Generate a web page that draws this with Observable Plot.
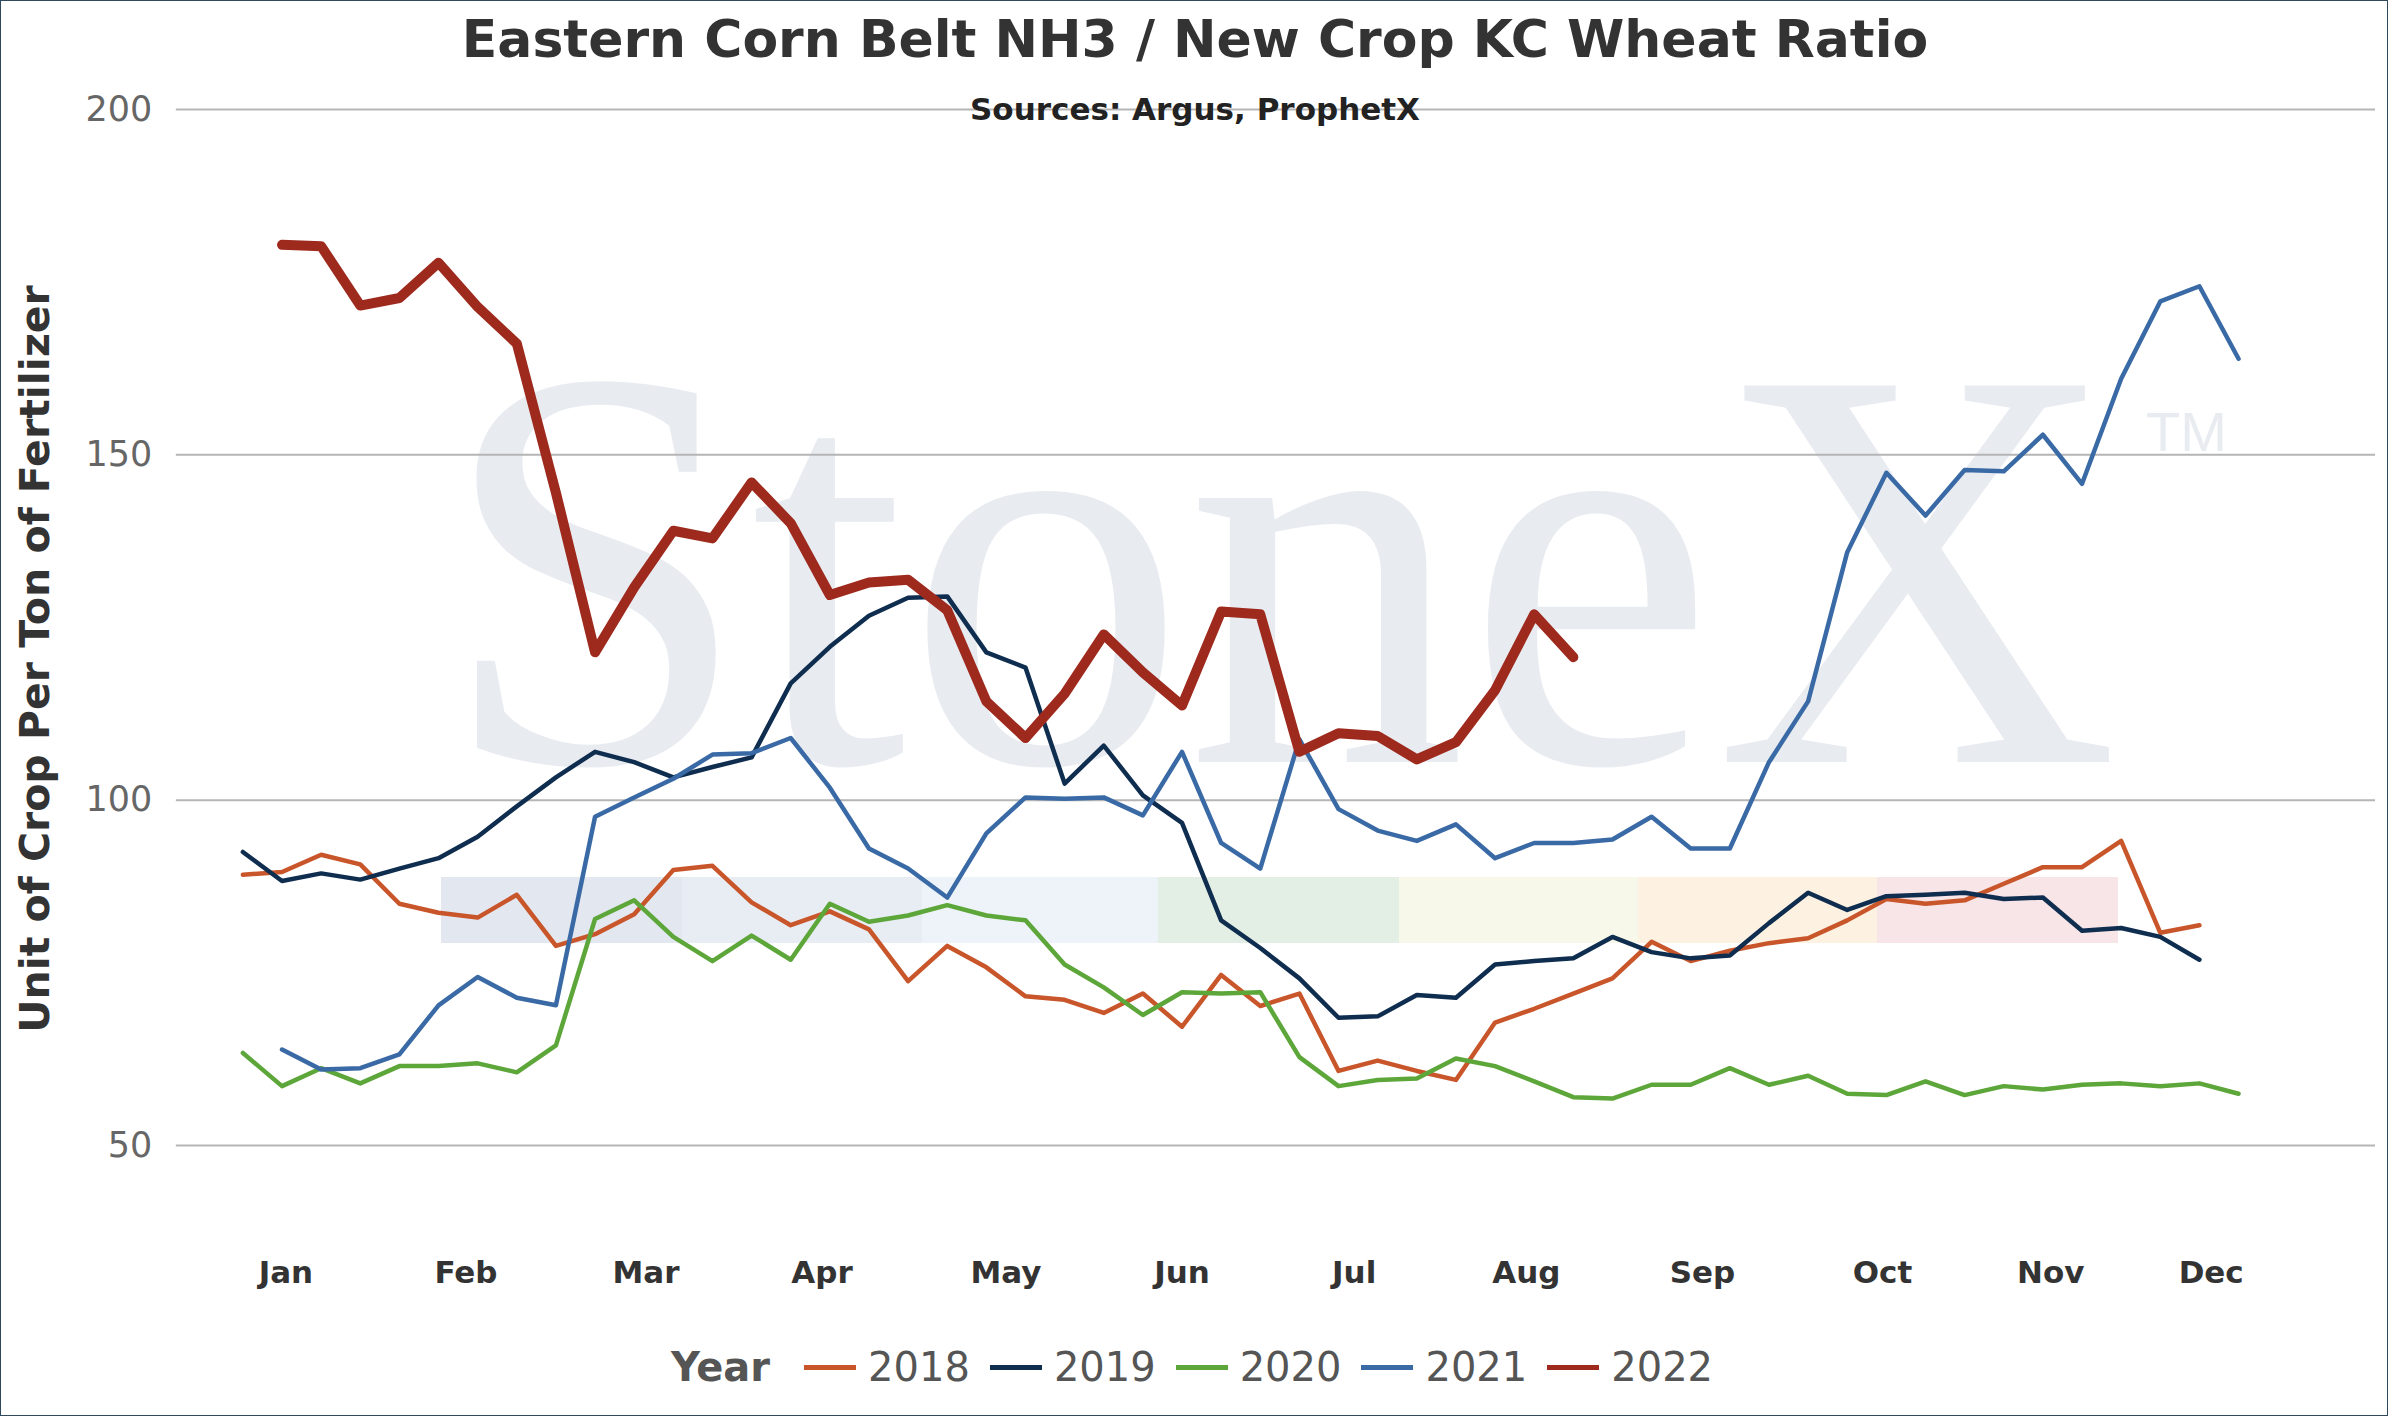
<!DOCTYPE html>
<html><head><meta charset="utf-8">
<script src="https://cdn.jsdelivr.net/npm/d3@7"></script>
<script src="https://cdn.jsdelivr.net/npm/@observablehq/plot@0.6"></script>
<style>
body{margin:0;background:#fff;font-family:Verdana,"DejaVu Sans",sans-serif;}
#wrap{position:relative;width:2386px;height:1414px;border:1px solid #2e4a5a;overflow:hidden;}
.abs{position:absolute;white-space:nowrap;}
</style></head><body>
<div id="wrap">
<svg class="abs" style="left:0;top:0" width="2388" height="1416">
<g>
<rect x="440" y="876" width="241" height="66" fill="#e3e7ef"/>
<rect x="681" y="876" width="240" height="66" fill="#e8edf4"/>
<rect x="921" y="876" width="236" height="66" fill="#edf3f8"/>
<rect x="1157" y="876" width="241" height="66" fill="#e3efe4"/>
<rect x="1398" y="876" width="239" height="66" fill="#f8f8ea"/>
<rect x="1637" y="876" width="239" height="66" fill="#fdf2e2"/>
<rect x="1876" y="876" width="241" height="66" fill="#f8e5e8"/>
</g>
<text x="438" y="761" font-family="Liberation Serif,serif" font-size="575" fill="#e8ebf0" textLength="1680" lengthAdjust="spacingAndGlyphs">StoneX</text>
<text x="2145" y="450" font-family="Liberation Sans,sans-serif" font-size="56" fill="#e8ebf0">TM</text>
</svg>
<div id="chart" class="abs" style="left:0;top:0"></div>
<div class="abs" style="left:0;width:2388px;text-align:center;top:8px;font-size:52px;font-weight:bold;color:#333">Eastern Corn Belt NH3 / New Crop KC Wheat Ratio</div>
<div class="abs" style="left:0;width:2388px;text-align:center;top:90px;font-size:31px;font-weight:bold;color:#222">Sources: Argus, ProphetX</div>
<div class="abs" style="left:34px;top:658px;transform:translate(-50%,-50%) rotate(-90deg);font-size:41px;font-weight:bold;color:#333">Unit of Crop Per Ton of Fertilizer</div>
<div id="legend" class="abs" style="left:0;width:2388px;top:1343px;display:flex;justify-content:center;align-items:center;font-size:40px;color:#555"></div>
</div>
<script>
const years=["2018","2019","2020","2021","2022"];
const colors=["#c8562a","#0f2d4f","#5da63a","#3a6aa5","#9e2a1e"];
const start={"2018":0,"2019":0,"2020":0,"2021":1,"2022":1};
const v2018=[89.2,89.6,92.1,90.7,85.0,83.7,83.0,86.3,78.9,80.6,83.5,89.9,90.5,85.2,81.9,83.9,81.3,73.8,78.9,75.8,71.6,71.1,69.2,72.0,67.2,74.7,70.2,72.0,60.8,62.3,60.8,59.5,67.8,69.8,72.0,74.2,79.5,76.7,78.2,79.3,80.0,82.6,85.7,85.0,85.5,87.9,90.3,90.3,94.1,80.8,81.9];
const v2019=[92.5,88.3,89.4,88.5,90.1,91.6,94.7,99.1,103.3,107.0,105.5,103.3,104.8,106.2,116.9,122.2,126.7,129.3,129.5,121.4,119.2,102.4,107.9,100.7,96.7,82.6,78.6,74.2,68.5,68.7,71.8,71.4,76.2,76.7,77.1,80.2,78.0,77.1,77.5,82.2,86.6,84.1,86.1,86.3,86.6,85.7,85.9,81.1,81.5,80.2,76.9];
const v2020=[63.4,58.6,61.2,59.0,61.5,61.5,61.9,60.6,64.5,82.8,85.5,80.2,76.7,80.4,76.9,85.0,82.4,83.3,84.8,83.3,82.6,76.2,72.9,68.9,72.2,72.0,72.2,62.8,58.6,59.5,59.7,62.6,61.5,59.3,57.0,56.8,58.8,58.8,61.2,58.8,60.1,57.5,57.3,59.3,57.3,58.6,58.1,58.8,59.0,58.6,59.0,57.5];
const v2021=[63.9,61.0,61.2,63.2,70.3,74.4,71.4,70.3,97.6,100.4,103.1,106.6,106.8,109.0,101.8,93.0,90.1,85.9,95.2,100.4,100.2,100.4,97.8,107.0,93.8,90.1,108.8,98.7,95.6,94.1,96.5,91.6,93.8,93.8,94.3,97.6,93.0,93.0,105.5,114.3,135.9,147.4,141.2,147.8,147.6,152.9,145.8,161.0,172.2,174.4,163.9];
const v2022=[180.4,180.2,171.6,172.7,177.8,171.4,166.1,144.5,121.4,130.8,139.0,137.9,146.0,140.1,129.7,131.5,131.9,127.5,114.3,109.0,115.4,124.0,118.5,113.7,127.3,126.9,107.0,109.7,109.3,105.9,108.4,115.9,126.9,120.7];
const months=["Jan","Feb","Mar","Apr","May","Jun","Jul","Aug","Sep","Oct","Nov","Dec"];
const monthPos=[1.1,5.7,10.3,14.8,19.5,24.0,28.4,32.8,37.3,41.9,46.2,50.3];
const yTicks=[50,100,150,200];
const series={"2018":v2018,"2019":v2019,"2020":v2020,"2021":v2021,"2022":v2022};
const data=[];
for(const y of years) series[y].forEach((v,i)=>data.push({year:y,week:i+start[y],value:v}));
const thin=data.filter(d=>d.year!=="2022"), thick=data.filter(d=>d.year==="2022");
const chart=Plot.plot({
  width:2388,height:1416,marginLeft:175,marginRight:12,marginTop:108,marginBottom:271,
  style:{background:"transparent",fontFamily:"Verdana,DejaVu Sans,sans-serif"},
  x:{domain:[-1.7,54.5],axis:null},
  y:{domain:[50,200],axis:null},
  color:{domain:years,range:colors},
  marks:[
    Plot.ruleY(yTicks,{stroke:"#b5b5b5",strokeWidth:2}),
    Plot.text(yTicks,{x:-1.7,y:d=>d,text:d=>String(d),textAnchor:"end",dx:-24,fontSize:35,fill:"#666"}),
    Plot.text(months,{x:(d,i)=>monthPos[i],y:31.5,text:d=>d,fontSize:31,fontWeight:"bold",fill:"#333",clip:false}),
    Plot.line(thin,{x:"week",y:"value",stroke:"year",strokeWidth:4.5,curve:"linear"}),
    Plot.line(thick,{x:"week",y:"value",stroke:"year",strokeWidth:10,strokeLinejoin:"round"})
  ]
});
document.getElementById("chart").appendChild(chart);
const lg=document.getElementById("legend");
let h='<span style="font-weight:bold;margin-right:20px">Year</span>';
years.forEach((y,i)=>{h+=`<span style="display:inline-block;width:52px;height:5px;background:${colors[i]};margin:0 12px 0 14px"></span><span style="margin-right:6px">${y}</span>`;});
lg.innerHTML=h;
</script>
</body></html>
